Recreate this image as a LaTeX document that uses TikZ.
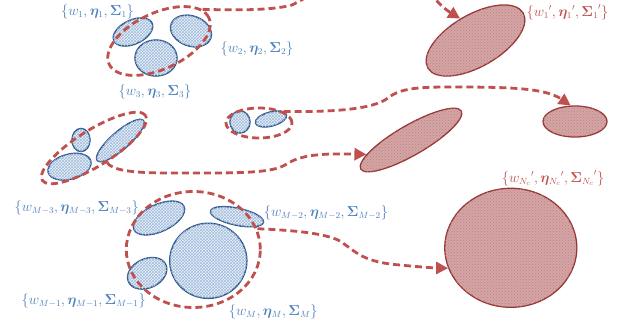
\documentclass[tikz,border=0pt]{standalone}
\usepackage{bm}
\usetikzlibrary{shapes.geometric,arrows.meta,patterns}
\definecolor{bline}{RGB}{47,85,140}
\definecolor{bfill}{RGB}{236,242,249}
\definecolor{bhatch}{RGB}{160,188,220}
\definecolor{rdash}{RGB}{192,80,77}
\definecolor{rline}{RGB}{150,55,53}
\definecolor{rfill}{RGB}{212,165,165}
\definecolor{rhatch}{RGB}{190,130,130}
\definecolor{btext}{RGB}{79,129,189}
\definecolor{rtext}{RGB}{192,80,77}
\tikzset{
  comp/.style={ellipse, draw=bline, line width=1.5pt, inner sep=0pt, fill=bfill,
    postaction={pattern=crosshatch, pattern color=bhatch}},
  clus/.style={ellipse, draw=rline, line width=1.3pt, inner sep=0pt, fill=rfill,
    postaction={pattern=crosshatch dots, pattern color=rhatch}},
  grp/.style={ellipse, draw=rdash, line width=2.8pt, dash pattern=on 7pt off 4pt, inner sep=0pt},
  flow/.style={draw=rdash, line width=2.8pt, dash pattern=on 7pt off 4pt,
    -{Triangle[length=12pt,width=12pt]}},
  blab/.style={text=btext, font=\fontsize{13.5}{16}\selectfont, inner sep=0pt},
  rlab/.style={text=rtext, font=\fontsize{13.5}{16}\selectfont, inner sep=0pt},
}
\begin{document}
\begin{tikzpicture}[x=1pt,y=-1pt]
\useasboundingbox (0,0) rectangle (631,329);
\clip (0,0) rectangle (631,329);

% blue components
\node[comp, minimum width=42pt, minimum height=24pt, rotate=25] (e1) at (133,32) {};
\node[comp, minimum width=42pt, minimum height=30pt, rotate=-20] (e2) at (191,31) {};
\node[comp, minimum width=42pt, minimum height=36pt] (e3) at (156,58) {};
\node[comp, minimum width=20pt, minimum height=22pt] (e4) at (240,122) {};
\node[comp, minimum width=32pt, minimum height=14pt, rotate=15] (e5) at (271,119) {};
\node[comp, minimum width=18pt, minimum height=23pt] (e6) at (81,140) {};
\node[comp, minimum width=44pt, minimum height=25pt, rotate=15] (e7) at (69.5,166.7) {};
\node[comp, minimum width=61pt, minimum height=18pt, rotate=41] (e8) at (120.3,140.5) {};
\node[comp, minimum width=77pt, minimum height=75pt] (e9) at (208.3,260.8) {};
\node[comp, minimum width=55pt, minimum height=27pt, rotate=25] (e10) at (159,218) {};
\node[comp, minimum width=54pt, minimum height=17pt, rotate=-12] (e11) at (237,216.7) {};
\node[comp, minimum width=41pt, minimum height=29pt, rotate=25] (e12) at (147.2,273.3) {};

% red dashed groups
\node[grp, minimum width=110pt, minimum height=56pt, rotate=25] (g1) at (159,41) {};
\node[grp, minimum width=66pt, minimum height=30pt] (g2) at (259,123) {};
\node[grp, minimum width=122pt, minimum height=36pt, rotate=32] (g3) at (94,148) {};
\node[grp, minimum width=134pt, minimum height=116pt] (g4) at (193.3,249.5) {};

% merged clusters
\node[clus, minimum width=110pt, minimum height=52pt, rotate=30] (t1) at (475.5,40.5) {};
\node[clus, minimum width=64pt, minimum height=31pt] (t2) at (575,121.5) {};
\node[clus, minimum width=116pt, minimum height=30pt, rotate=30] (t3) at (411,140) {};
\node[clus, minimum width=132pt, minimum height=119pt] (t4) at (510.8,247.8) {};

% flows
\draw[flow] (g1.11) .. controls (230,10) and (270,11) .. (292,5)
  .. controls (318,-8) and (345,-30) .. (390,-30)
  .. controls (420,-30) and (430,0) .. (t1.95);
\draw[flow] (g2.25) .. controls (330,112) and (372,110) .. (388,98)
  .. controls (400,88) and (420,87) .. (450,87)
  .. controls (510,87) and (545,88) .. (t2.105);
\draw[flow] (g3.-80) .. controls (112,170) and (130,173) .. (170,173)
  .. controls (230,173) and (270,174) .. (285,165)
  .. controls (297,157) and (310,155) .. (330,154)
  .. controls (340,154) and (350,154) .. (t3.168);
\draw[flow] (g4.18) .. controls (285,230) and (320,232) .. (338,240)
  .. controls (355,250) and (360,262) .. (400,265)
  .. controls (420,267) and (435,268) .. (t4.198);

% labels
\node[blab] (l1) at (97.5,12) {$\{w_1,\bm{\eta}_1,\bm{\Sigma}_1\}$};
\node[blab] (l2) at (257,49) {$\{w_2,\bm{\eta}_2,\bm{\Sigma}_2\}$};
\node[blab] (l3) at (155,92) {$\{w_3,\bm{\eta}_3,\bm{\Sigma}_3\}$};
\node[blab] (lm3) at (76.7,208) {$\{w_{M-3},\bm{\eta}_{M-3},\bm{\Sigma}_{M-3}\}$};
\node[blab] (lm2) at (326,213) {$\{w_{M-2},\bm{\eta}_{M-2},\bm{\Sigma}_{M-2}\}$};
\node[blab] (lm1) at (83.7,301) {$\{w_{M-1},\bm{\eta}_{M-1},\bm{\Sigma}_{M-1}\}$};
\node[blab] (lm) at (273.3,311.5) {$\{w_M,\bm{\eta}_M,\bm{\Sigma}_M\}$};
\node[rlab] (r1) at (567.5,12) {$\{{w_1}',{\bm{\eta}_1}',{\bm{\Sigma}_1}'\}$};
\node[rlab] (rn) at (553,178) {$\{{w_{N_c}}',{\bm{\eta}_{N_c}}',{\bm{\Sigma}_{N_c}}'\}$};
\end{tikzpicture}
\end{document}
